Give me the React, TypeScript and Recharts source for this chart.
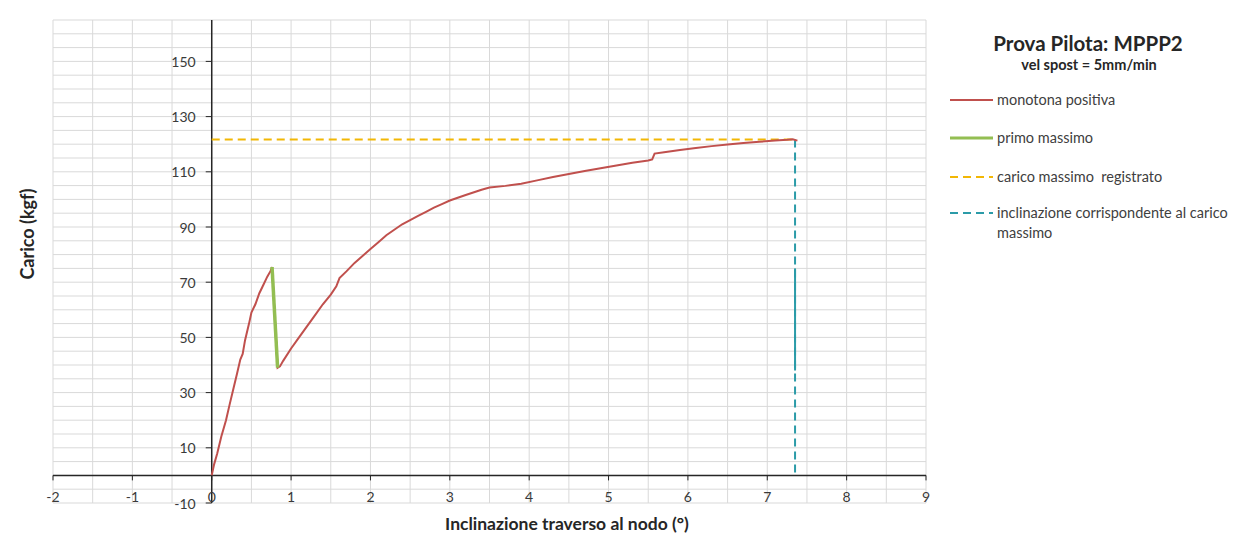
import { LineChart, Line, XAxis, YAxis, CartesianGrid, ReferenceLine } from "recharts";

// ---- data ----
// monotona positiva (red): angle in degrees, load in kgf
const redX = [
  0, 0.03, 0.07, 0.12, 0.18, 0.22, 0.27, 0.32, 0.36, 0.39, 0.42, 0.47, 0.5, 0.55, 0.6, 0.65, 0.7, 0.74, 0.76,
  0.83, 0.86, 0.9, 1.0, 1.1, 1.2, 1.3, 1.4, 1.5, 1.57, 1.61, 1.7, 1.8, 1.9, 2.0, 2.1, 2.2, 2.3, 2.4, 2.5,
  2.6, 2.7, 2.8, 2.9, 3.0, 3.2, 3.4, 3.5, 3.7, 3.9, 4.1, 4.3, 4.5, 4.7, 4.9, 5.1, 5.3, 5.5, 5.55, 5.58,
  5.7, 5.9, 6.1, 6.3, 6.5, 6.7, 6.9, 7.1, 7.25, 7.32, 7.38,
];
const redY = [
  0, 4, 8, 14, 20, 25, 31, 37, 42, 44, 49, 55, 59, 62, 66, 69, 72, 74, 75.5,
  39, 39.5, 41.5, 46, 50, 54, 58, 62, 65.5, 68.5, 71.5, 74, 77, 79.5, 82, 84.5, 87, 89, 91, 92.5,
  94, 95.5, 97, 98.3, 99.6, 101.6, 103.5, 104.3, 104.9, 105.7, 106.9, 108.1, 109.2, 110.3, 111.3, 112.3,
  113.3, 114.1, 114.5, 116.6, 117.1, 117.9, 118.6, 119.3, 119.9, 120.4, 120.9, 121.3, 121.6, 121.8, 121.3,
];

// primo massimo (green)
const greenX = [0.76, 0.83];
const greenY = [75.5, 39];

// carico massimo registrato (orange, dashed)
const maxLoadX = [0, 7.35];
const maxLoadY = [121.7, 121.7];

// inclinazione corrispondente al carico massimo (teal, dashed)
const maxAngleX = [7.35, 7.35];
const maxAngleY = [121.7, 0];
const maxAngleSolidX = [7.35, 7.35];
const maxAngleSolidY = [75, 38];

const xTicks = [-2, -1, 0, 1, 2, 3, 4, 5, 6, 7, 8, 9];
const yTicks = [-10, 10, 30, 50, 70, 90, 110, 130, 150];
const xGrid = [-2, -1.5, -1, -0.5, 0, 0.5, 1, 1.5, 2, 2.5, 3, 3.5, 4, 4.5, 5, 5.5, 6, 6.5, 7, 7.5, 8, 8.5, 9];
const yGrid = [
  -10, -5, 0, 5, 10, 15, 20, 25, 30, 35, 40, 45, 50, 55, 60, 65, 70, 75, 80, 85, 90, 95, 100,
  105, 110, 115, 120, 125, 130, 135, 140, 145, 150, 155, 160, 165,
];

const legendItems = [
  { label: "monotona positiva", color: "#C0504D", width: 2, dash: "" },
  { label: "primo massimo", color: "#93BE52", width: 3, dash: "" },
  { label: "carico massimo  registrato", color: "#F2B705", width: 2, dash: "8 5" },
  { label: "inclinazione corrispondente al carico massimo", color: "#2B9BA8", width: 2, dash: "8 5" },
];
const legendRows = [100, 138, 177, 213];

const zip = (xs: number[], ys: number[]) => xs.map((x, i) => ({ x, y: ys[i] }));

// ---- layout ----
const W = 1243;
const H = 536;
const PL = 53;
const PT = 20;
const PR = 926;
const PB = 503;
const X_MIN = -2;
const X_MAX = 9;
const Y_MIN = -10;
const Y_MAX = 165;
// where the axes cross (x = 0, y = 0)
const X0 = PL + ((0 - X_MIN) / (X_MAX - X_MIN)) * (PR - PL);
const Y0 = PT + ((Y_MAX - 0) / (Y_MAX - Y_MIN)) * (PB - PT);

const FONT = "Lato, 'Open Sans', sans-serif";
const TEXT = "#3a3a3a";

function XTick({ x, payload }: any) {
  return (
    <g>
      <line x1={x} x2={x} y1={Y0} y2={Y0 + 5} stroke="#262626" />
      <text x={x} y={Y0 + 21} textAnchor="middle" dominantBaseline="central" fontSize={14} fill={TEXT} fontFamily={FONT}>
        {payload.value}
      </text>
    </g>
  );
}

function YTick({ y, payload }: any) {
  return (
    <g>
      <line x1={X0 - 6} x2={X0} y1={y} y2={y} stroke="#262626" />
      <text x={X0 - 16} y={y} textAnchor="end" dominantBaseline="central" fontSize={14} fill={TEXT} fontFamily={FONT}>
        {payload.value}
      </text>
    </g>
  );
}

export default function App() {
  return (
    <div style={{ position: "absolute", left: 0, top: 0, width: W, height: H, background: "#fff", fontFamily: FONT }}>
      <LineChart width={W} height={H} margin={{ top: PT, left: PL - 1, right: W - PR, bottom: 0 }}>
        <CartesianGrid stroke="#d9d9d9" horizontalValues={yGrid} verticalValues={xGrid} />
        <XAxis
          type="number"
          dataKey="x"
          domain={[X_MIN, X_MAX]}
          ticks={xTicks}
          interval={0}
          allowDataOverflow
          axisLine={false}
          tickLine={false}
          height={H - PB}
          tick={<XTick />}
        />
        <YAxis
          type="number"
          dataKey="y"
          domain={[Y_MIN, Y_MAX]}
          ticks={yTicks}
          interval={0}
          allowDataOverflow
          axisLine={false}
          tickLine={false}
          width={1}
          tick={<YTick />}
        />
        <ReferenceLine y={0} stroke="#262626" strokeWidth={1.5} />
        <ReferenceLine x={0} stroke="#262626" strokeWidth={1.5} />
        <Line data={zip(maxLoadX, maxLoadY)} dataKey="y" stroke="#F2B705" strokeWidth={2} strokeDasharray="8 5" dot={false} isAnimationActive={false} />
        <Line data={zip(maxAngleX, maxAngleY)} dataKey="y" stroke="#2B9BA8" strokeWidth={2} strokeDasharray="8 5" dot={false} isAnimationActive={false} />
        <Line data={zip(maxAngleSolidX, maxAngleSolidY)} dataKey="y" stroke="#2B9BA8" strokeWidth={2} dot={false} isAnimationActive={false} />
        <Line data={zip(redX, redY)} dataKey="y" stroke="#C0504D" strokeWidth={2} dot={false} isAnimationActive={false} />
        <Line data={zip(greenX, greenY)} dataKey="y" stroke="#93BE52" strokeWidth={3.5} dot={false} isAnimationActive={false} />
      </LineChart>

      <div
        style={{
          position: "absolute",
          left: 27,
          top: 234,
          transform: "translate(-50%, -50%) rotate(-90deg)",
          fontSize: 18,
          fontWeight: 700,
          color: "#262626",
          whiteSpace: "nowrap",
        }}
      >
        Carico (kgf)
      </div>
      <div
        style={{
          position: "absolute",
          left: 567,
          top: 523,
          transform: "translate(-50%, -50%)",
          fontSize: 17.5,
          fontWeight: 700,
          color: "#262626",
          whiteSpace: "nowrap",
        }}
      >
        Inclinazione traverso al nodo (°)
      </div>

      <div style={{ position: "absolute", left: 1088, top: 43, transform: "translate(-50%, -50%)", fontSize: 20.5, fontWeight: 700, color: "#262626", whiteSpace: "nowrap" }}>
        Prova Pilota: MPPP2
      </div>
      <div style={{ position: "absolute", left: 1089, top: 64, transform: "translate(-50%, -50%)", fontSize: 14.5, fontWeight: 700, color: "#262626", whiteSpace: "nowrap" }}>
        vel spost = 5mm/min
      </div>

      {legendItems.map((item, i) => (
        <div
          key={item.label}
          style={{ position: "absolute", left: 950, top: legendRows[i] - 10, display: "flex", alignItems: "flex-start", fontSize: 14.5, color: "#404040" }}
        >
          <svg width={47} height={20} style={{ flex: "none" }}>
            <line x1={0} x2={43} y1={10} y2={10} stroke={item.color} strokeWidth={item.width} strokeDasharray={item.dash || undefined} />
          </svg>
          <span style={{ width: 250, lineHeight: "20px", whiteSpace: "pre-wrap" }}>{item.label}</span>
        </div>
      ))}
    </div>
  );
}
